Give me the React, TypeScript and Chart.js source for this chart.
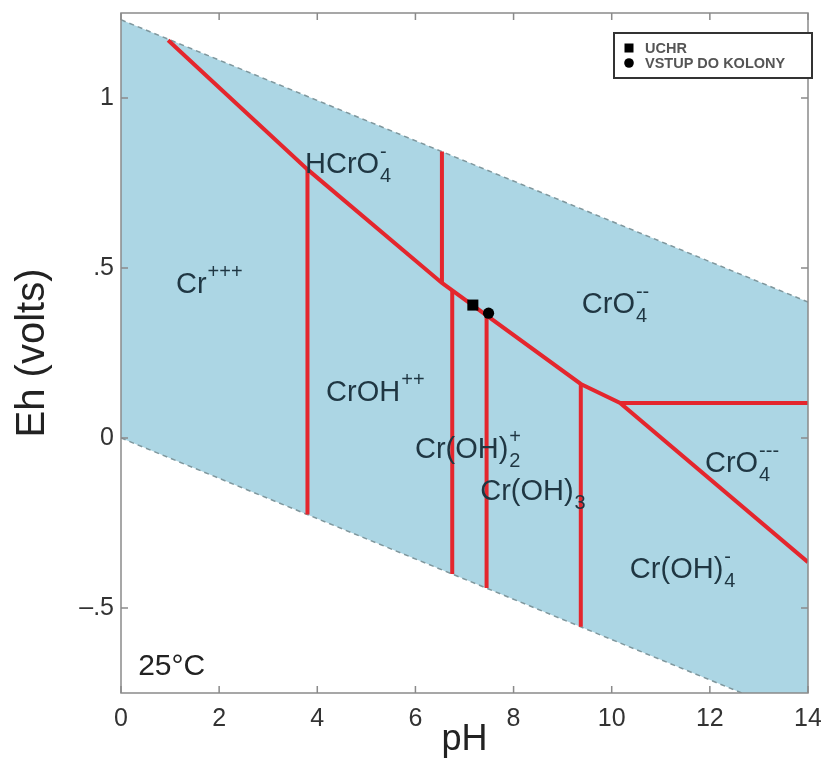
import React, { useEffect, useRef } from 'react';
import { Chart, registerables } from 'chart.js';

Chart.register(...registerables);

const FONT = "'Liberation Sans', Arial, Helvetica, sans-serif";

// Axis ticks
const xTickValues = [0, 2, 4, 6, 8, 10, 12, 14];
const yTickValues = [-0.5, 0, 0.5, 1];
const yTickLabels = ['–.5', '0', '.5', '1'];

// Water stability limits (dashed)
const waterUpperPH = [0, 14];
const waterUpperEh = [1.23, 0.4];
const waterLowerPH = [0, 14];
const waterLowerEh = [0, -0.83];

// Red boundaries
const mainBoundaryPH = [0.96, 3.8, 6.54, 9.37, 10.17, 14];
const mainBoundaryEh = [1.17, 0.79, 0.456, 0.159, 0.103, -0.365];

const verticalPH = [3.8, 6.54, 6.75, 7.45, 9.37];
const verticalTopEh = [0.79, 0.843, 0.434, 0.36, 0.159];
const verticalBottomEh = [-0.225, 0.456, -0.4, -0.441, -0.555];

const horizontalPH = [10.17, 14];
const horizontalEh = [0.103, 0.103];

// Samples
const sampleLabels = ['UCHR', 'VSTUP DO KOLONY'];
const samplePH = [7.17, 7.49];
const sampleEh = [0.391, 0.367];
const sampleStyles = ['rect', 'circle'];

// Species field labels
const speciesBase = ['HCrO', 'Cr', 'CrOH', 'Cr(OH)', 'Cr(OH)', 'CrO', 'CrO', 'Cr(OH)'];
const speciesSub = ['4', '', '', '2', '3', '4', '4', '4'];
const speciesSup = ['-', '+++', '++', '+', '', '--', '---', '-'];
const speciesPH = [3.75, 1.12, 4.18, 5.99, 7.32, 9.39, 11.9, 10.37];
const speciesEh = [0.779, 0.426, 0.109, -0.059, -0.182, 0.368, -0.1, -0.412];

const temperatureLabel = '25°C';
const temperaturePH = 0.35;
const temperatureEh = -0.697;

const RED = '#e4262d';
const BLUE = '#acd6e4';
const DASH = '#7f979d';
const AXIS = '#8a8a8a';

const pts = (xs: number[], ys: number[]) => xs.map((x, i) => ({ x, y: ys[i] }));

const overlayPlugin = {
  id: 'overlay',
  afterDatasetsDraw(chart: any) {
    const { ctx } = chart;
    const xs = chart.scales.x;
    const ys = chart.scales.y;
    ctx.save();
    ctx.textAlign = 'left';
    ctx.textBaseline = 'alphabetic';
    ctx.fillStyle = '#1f3642';
    speciesBase.forEach((base, i) => {
      const px = xs.getPixelForValue(speciesPH[i]);
      const py = ys.getPixelForValue(speciesEh[i]);
      ctx.font = `29px ${FONT}`;
      ctx.fillText(base, px, py);
      const w = ctx.measureText(base).width;
      ctx.font = `20px ${FONT}`;
      if (speciesSub[i]) ctx.fillText(speciesSub[i], px + w + 1, py + 9);
      if (speciesSup[i]) ctx.fillText(speciesSup[i], px + w + 1, py - 15);
    });
    ctx.fillStyle = '#222';
    ctx.font = `30px ${FONT}`;
    ctx.fillText(
      temperatureLabel,
      xs.getPixelForValue(temperaturePH),
      ys.getPixelForValue(temperatureEh)
    );
    ctx.restore();
  },
  afterDraw(chart: any) {
    const { ctx, chartArea: ca } = chart;
    const xs = chart.scales.x;
    const ys = chart.scales.y;
    ctx.save();
    // frame
    ctx.strokeStyle = AXIS;
    ctx.lineWidth = 1.5;
    ctx.strokeRect(ca.left, ca.top, ca.right - ca.left, ca.bottom - ca.top);
    // inward ticks
    const tl = 7;
    ctx.beginPath();
    xTickValues.forEach((v) => {
      const px = xs.getPixelForValue(v);
      ctx.moveTo(px, ca.bottom);
      ctx.lineTo(px, ca.bottom - tl);
      ctx.moveTo(px, ca.top);
      ctx.lineTo(px, ca.top + tl);
    });
    yTickValues.forEach((v) => {
      const py = ys.getPixelForValue(v);
      ctx.moveTo(ca.left, py);
      ctx.lineTo(ca.left + tl, py);
      ctx.moveTo(ca.right, py);
      ctx.lineTo(ca.right - tl, py);
    });
    ctx.stroke();

    // legend box
    const bx = ca.right - 194;
    const by = ca.top + 20;
    const bw = 198;
    const bh = 45;
    ctx.fillStyle = '#fff';
    ctx.fillRect(bx, by, bw, bh);
    ctx.strokeStyle = '#333';
    ctx.lineWidth = 2;
    ctx.strokeRect(bx, by, bw, bh);
    ctx.textAlign = 'left';
    ctx.textBaseline = 'middle';
    ctx.font = `bold 14.5px ${FONT}`;
    for (let i = 0; i < 2; i++) {
      const ds = chart.data.datasets[i];
      const cy = by + 15 + i * 15;
      const mx = bx + 15;
      ctx.fillStyle = '#000';
      if (ds.pointStyle === 'rect') {
        ctx.fillRect(mx - 4.5, cy - 4.5, 9, 9);
      } else {
        ctx.beginPath();
        ctx.arc(mx, cy, 4.8, 0, Math.PI * 2);
        ctx.fill();
      }
      ctx.fillStyle = '#555';
      ctx.fillText(ds.label, bx + 31, cy + 1);
    }
    ctx.restore();
  },
};

export default function App() {
  const ref = useRef<HTMLCanvasElement>(null);

  useEffect(() => {
    const lineBase = {
      borderColor: RED,
      borderWidth: 4,
      pointRadius: 0,
      fill: false,
      showLine: true,
      tension: 0,
    };
    const datasets: any[] = [
      ...sampleLabels.map((label, i) => ({
        label,
        data: [{ x: samplePH[i], y: sampleEh[i] }],
        pointStyle: sampleStyles[i],
        pointRadius: sampleStyles[i] === 'rect' ? 7.8 : 5.6,
        backgroundColor: '#000',
        borderColor: '#000',
        borderWidth: 0,
        showLine: false,
        fill: false,
      })),
      { label: 'boundary', data: pts(mainBoundaryPH, mainBoundaryEh), ...lineBase },
      ...verticalPH.map((x, i) => ({
        label: 'vertical',
        data: [
          { x, y: verticalTopEh[i] },
          { x, y: verticalBottomEh[i] },
        ],
        ...lineBase,
      })),
      { label: 'horizontal', data: pts(horizontalPH, horizontalEh), ...lineBase },
      {
        label: 'water upper',
        data: pts(waterUpperPH, waterUpperEh),
        borderColor: DASH,
        borderWidth: 1.5,
        borderDash: [5, 4],
        backgroundColor: BLUE,
        pointRadius: 0,
        showLine: true,
        fill: '+1',
      },
      {
        label: 'water lower',
        data: pts(waterLowerPH, waterLowerEh),
        borderColor: DASH,
        borderWidth: 1.5,
        borderDash: [5, 4],
        pointRadius: 0,
        showLine: true,
        fill: false,
      },
    ];

    const chart = new Chart(ref.current as HTMLCanvasElement, {
      type: 'line',
      data: { datasets },
      options: {
        animation: false,
        responsive: false,
        devicePixelRatio: 1,
        events: [],
        layout: { padding: { top: 13, right: 13, left: 0, bottom: 0 } },
        plugins: {
          legend: { display: false },
          tooltip: { enabled: false },
          filler: { drawTime: 'beforeDatasetsDraw' },
        },
        scales: {
          x: {
            type: 'linear',
            min: 0,
            max: 14,
            afterBuildTicks: (s: any) => {
              s.ticks = xTickValues.map((v) => ({ value: v }));
            },
            afterFit: (s: any) => {
              s.height = 73;
              s.paddingLeft = 0;
              s.paddingRight = 0;
            },
            grid: { display: false, drawTicks: false },
            border: { display: false },
            ticks: {
              padding: 11,
              autoSkip: false,
              maxRotation: 0,
              color: '#333',
              font: { family: FONT, size: 25 },
              callback: (v: any) => String(v),
            },
            title: {
              display: true,
              text: 'pH',
              color: '#222',
              font: { family: FONT, size: 36 },
              padding: { top: 0, bottom: 4 },
            },
          },
          y: {
            type: 'linear',
            min: -0.75,
            max: 1.25,
            afterBuildTicks: (s: any) => {
              s.ticks = yTickValues.map((v) => ({ value: v }));
            },
            afterFit: (s: any) => {
              s.width = 121;
              s.paddingTop = 0;
              s.paddingBottom = 0;
            },
            grid: { display: false, drawTicks: false },
            border: { display: false },
            ticks: {
              padding: 7,
              autoSkip: false,
              color: '#333',
              font: { family: FONT, size: 25 },
              callback: (_v: any, i: number) => yTickLabels[i],
            },
            title: {
              display: true,
              text: 'Eh (volts)',
              color: '#222',
              font: { family: FONT, size: 40 },
              padding: { top: 9, bottom: 0 },
            },
          },
        },
      },
      plugins: [overlayPlugin],
    } as any);
    return () => chart.destroy();
  }, []);

  return (
    <canvas
      ref={ref}
      width={821}
      height={766}
      style={{ position: 'absolute', left: 0, top: 0, display: 'block', width: 821, height: 766 }}
    />
  );
}
